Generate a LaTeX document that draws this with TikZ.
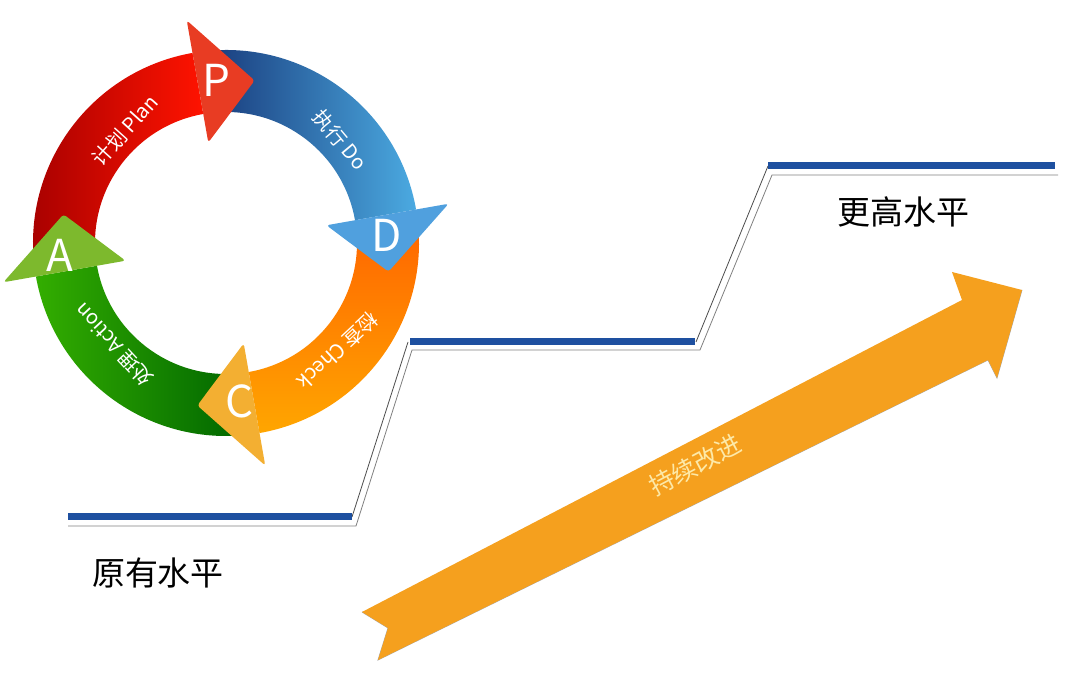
\documentclass[tikz,border=0pt]{standalone}
\usepackage{fontspec}
\newfontfamily\cjk{Noto Sans CJK SC}
\definecolor{lvlblue}{RGB}{30,80,160}
\definecolor{navy}{RGB}{25,60,125}
\definecolor{skyb}{RGB}{75,170,225}
\begin{document}
\begin{tikzpicture}[x=1pt,y=1pt,
  bandtxt/.style={text=white,font=\cjk\fontsize{20}{20}\selectfont},
  letter/.style={text=white,font=\cjk\fontsize{44}{44}\selectfont},
  level/.style={draw=lvlblue,line width=7pt},
  lvltxt/.style={font=\cjk\fontsize{33}{33}\selectfont}]
\useasboundingbox (0,0) rectangle (1080,674);
\fill[white] (0,0) rectangle (1080,674);
\def\R{193}\def\r{131}
\begin{scope}[shift={(226,431)}]
% bands
\shade[left color=red!65!black,right color=red!85!orange]
  (185:\R) arc[start angle=185,end angle=100,radius=\R] -- (100:\r) arc[start angle=100,end angle=185,radius=\r] -- cycle;
\shade[left color=navy,right color=skyb]
  (95:\R) arc[start angle=95,end angle=10,radius=\R] -- (10:\r) arc[start angle=10,end angle=95,radius=\r] -- cycle;
\shade[top color=orange!80!red,bottom color=orange!70!yellow]
  (5:\R) arc[start angle=5,end angle=-80,radius=\R] -- (-80:\r) arc[start angle=-80,end angle=5,radius=\r] -- cycle;
\shade[right color=green!40!black,left color=green!60!black!80!yellow]
  (-85:\R) arc[start angle=-85,end angle=-170,radius=\R] -- (-170:\r) arc[start angle=-170,end angle=-85,radius=\r] -- cycle;
% heads
\fill[rounded corners=3pt,fill={rgb,255:red,232;green,60;blue,35}] (100:102) -- (100:226) -- (80:165) -- cycle;
\fill[rounded corners=3pt,fill={rgb,255:red,80;green,160;blue,222}] (10:102) -- (10:226) -- (-10:165) -- cycle;
\fill[rounded corners=3pt,fill={rgb,255:red,243;green,175;blue,50}] (-80:102) -- (-80:226) -- (-100:165) -- cycle;
\fill[rounded corners=3pt,fill={rgb,255:red,125;green,185;blue,45}] (-170:102) -- (-170:226) -- (-190:165) -- cycle;
% letters
\node[letter] (lp) at (-10,163) {P};
\node[letter] (ld) at (161,8) {D};
\node[letter] (lc) at (14,-158) {C};
\node[letter] (la) at (-166,-12) {A};
% band texts
\node[bandtxt,rotate=48,inner sep=0pt] (tp) at (-101,113) {计划 Plan};
\node[bandtxt,rotate=-50,inner sep=0pt] (td) at (114,103) {执行 Do};
\node[bandtxt,rotate=223,inner sep=0pt] (tc) at (112,-108) {检查 Check};
\node[bandtxt,rotate=133,inner sep=0pt] (ta) at (-112,-102) {处理 Action};
\end{scope}
% levels
\draw[gray,line width=0.8pt] (68,148) -- (356,148) -- (412,324) -- (700,324) -- (772,499) -- (1058,499);
\draw[black!70,line width=0.8pt] (352,157) -- (408,332);
\draw[black!70,line width=0.8pt] (696,332) -- (768,508);
\draw[level] (68,157) -- (352,157);
\draw[level] (410,332) -- (695,332);
\draw[level] (768,508) -- (1055,508);
\node[lvltxt] (l1) at (158,101) {原有水平};
\node[lvltxt] (l2) at (903,462) {更高水平};
% big arrow
\coordinate (tt) at (362,62); \coordinate (tn) at (388,46); \coordinate (tb) at (378,14);
\coordinate (bb) at (988,314); \coordinate (hb) at (997,296); \coordinate (tip) at (1022,384);
\coordinate (ht) at (952,402); \coordinate (bt) at (962,374);
\draw[gray!70,line width=0.8pt,shift={(-4,-6)}] (tt) -- (tn) -- (tb) -- (bb) -- (hb) -- (tip);
\fill[fill={rgb,255:red,245;green,160;blue,30}] (tt) -- (tn) -- (tb) -- (bb) -- (hb) -- (tip) -- (ht) -- (bt) -- cycle;
\node[rotate=28,text={rgb,255:red,253;green,233;blue,168},font=\cjk\fontsize{25}{25}\selectfont] (ci) at (695,209) {持续改进};
\end{tikzpicture}
\end{document}
